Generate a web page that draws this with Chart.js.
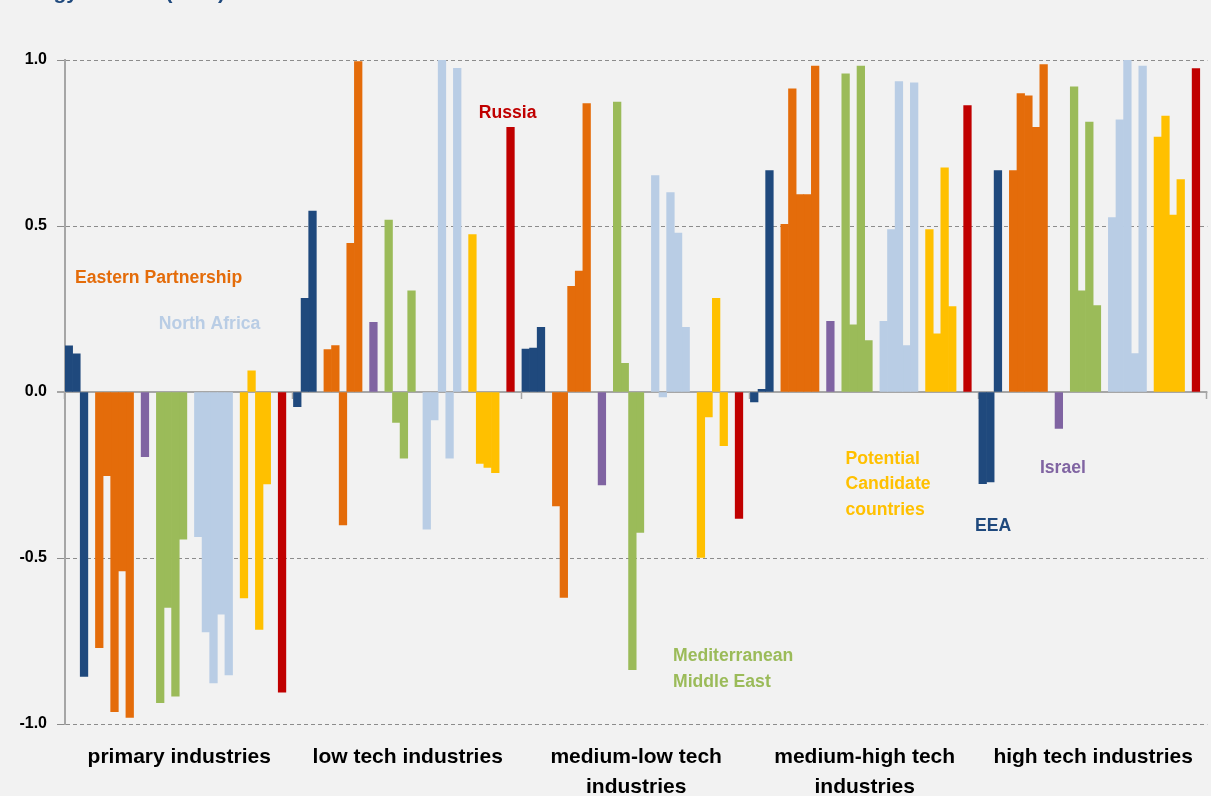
<!DOCTYPE html>
<html>
<head>
<meta charset="utf-8">
<script src="https://cdn.jsdelivr.net/npm/chart.js@4.4.0/dist/chart.umd.min.js"></script>
<style>
  html, body { margin: 0; padding: 0; background: #f2f2f2; }
  #wrap { width: 1211px; height: 796px; }
</style>
</head>
<body>
<div id="wrap"><canvas id="myChart" width="1211" height="796"></canvas></div>
<script>
const categories = [
    'primary industries',
    'low tech industries',
    ['medium-low tech', 'industries'],
    ['medium-high tech', 'industries'],
    'high tech industries'
]

// one slot per country, null = empty spacer between the country groups
const regions = [
    'EEA', 'EEA', 'EEA', null,
    'EaP', 'EaP', 'EaP', 'EaP', 'EaP', null,
    'Israel', null,
    'MME', 'MME', 'MME', 'MME', null,
    'NA', 'NA', 'NA', 'NA', 'NA', null,
    'PC', 'PC', 'PC', 'PC', null,
    'Russia', null
]

const primary    = [0.139, 0.115, -0.857, null, -0.770, -0.252, -0.963, -0.539, -0.980, null, -0.195, null, -0.936, -0.649, -0.916, -0.443, null, -0.436, -0.723, -0.876, -0.669, -0.852, null, -0.620, 0.064, -0.715, -0.277, null, -0.904, null]
const lowTech    = [-0.044, 0.282, 0.545, null, 0.128, 0.140, -0.400, 0.448, 0.995, null, 0.210, null, 0.518, -0.092, -0.199, 0.305, null, -0.413, -0.084, 1.000, -0.199, 0.975, null, 0.474, -0.215, -0.227, -0.243, null, 0.797, null]
const mediumLow  = [0.129, 0.132, 0.195, null, -0.343, -0.619, 0.318, 0.364, 0.869, null, -0.280, null, 0.873, 0.086, -0.836, -0.423, null, 0.652, -0.015, 0.601, 0.479, 0.195, null, -0.498, -0.075, 0.282, -0.162, null, -0.381, null]
const mediumHigh = [-0.030, 0.008, 0.667, null, 0.505, 0.913, 0.595, 0.595, 0.982, null, 0.213, null, 0.958, 0.202, 0.982, 0.155, null, 0.213, 0.489, 0.935, 0.140, 0.931, null, 0.489, 0.175, 0.675, 0.257, null, 0.863, null]
const highTech   = [-0.276, -0.271, 0.667, null, 0.667, 0.899, 0.892, 0.797, 0.986, null, -0.110, null, 0.919, 0.305, 0.813, 0.260, null, 0.525, 0.820, 1.000, 0.116, 0.982, null, 0.768, 0.831, 0.533, 0.640, null, 0.974, null]

const yTicks = [-1, -0.5, 0, 0.5, 1]

// region names written in the plot: x in category units, y in axis units
const notes = [
    { text: ['Eastern Partnership'], region: 'EaP', x: -0.456, y: 0.342 },
    { text: ['North Africa'], region: 'NA', x: -0.090, y: 0.204 },
    { text: ['Russia'], region: 'Russia', x: 1.311, y: 0.840 },
    { text: ['Mediterranean', 'Middle East'], region: 'MME', x: 2.161, y: -0.797 },
    { text: ['Potential', 'Candidate', 'countries'], region: 'PC', x: 2.916, y: -0.201 },
    { text: ['EEA'], region: 'EEA', x: 3.483, y: -0.405 },
    { text: ['Israel'], region: 'Israel', x: 3.767, y: -0.228 }
]

const colors = {
    EEA: '#1f497d',
    EaP: '#e46c0a',
    Israel: '#8064a2',
    MME: '#9bbb59',
    NA: '#b9cde5',
    PC: '#ffc000',
    Russia: '#c00000'
}

const rows = [primary, lowTech, mediumLow, mediumHigh, highTech]

const datasets = regions.map((r, i) => ({
    label: r ? r + ' ' + i : '',
    data: rows.map(row => row[i]),
    backgroundColor: r ? colors[r] : 'transparent',
    borderWidth: 0,
    categoryPercentage: 1,
    barPercentage: 1
}))

const extras = {
    id: 'extras',
    beforeDatasetsDraw(chart) {
        const ctx = chart.ctx
        const x = chart.scales.x
        const y = chart.scales.y
        const y0 = y.getPixelForValue(0)
        ctx.save()
        ctx.strokeStyle = '#a6a6a6'
        ctx.lineWidth = 2
        ctx.beginPath()
        ctx.moveTo(x.left - 8, y0)
        ctx.lineTo(x.right, y0)
        ctx.stroke()
        ctx.lineWidth = 1.5
        for (let i = 0; i <= categories.length; i++) {
            const px = Math.round(x.getPixelForValue(i - 0.5)) - 0.5
            ctx.beginPath()
            ctx.moveTo(px, y0)
            ctx.lineTo(px, y0 + 7)
            ctx.stroke()
        }
        ctx.restore()
    },
    afterDraw(chart) {
        const ctx = chart.ctx
        const x = chart.scales.x
        const y = chart.scales.y
        ctx.save()
        ctx.font = 'bold 17.6px "Liberation Sans", Arial, sans-serif'
        ctx.textBaseline = 'middle'
        ctx.textAlign = 'left'
        notes.forEach(n => {
            ctx.fillStyle = colors[n.region]
            const px = x.getPixelForValue(n.x)
            const py = y.getPixelForValue(n.y)
            n.text.forEach((line, k) => ctx.fillText(line, px, py + k * 25.5))
        })
        // chart title, cut off by the top edge in the original
        ctx.font = 'bold 21px "Liberation Sans", Arial, sans-serif'
        ctx.fillStyle = '#1f497d'
        ctx.textBaseline = 'alphabetic'
        const w = ctx.measureText('Specialisation by technology').width
        ctx.fillText('Specialisation by technology classes (RCA)', 78 - w, -1)
        ctx.restore()
    }
}

new Chart(document.getElementById('myChart'), {
    type: 'bar',
    data: { labels: categories, datasets: datasets },
    options: {
        responsive: false,
        animation: false,
        layout: { padding: { top: 60, right: 1, left: 0, bottom: 0 } },
        plugins: { legend: { display: false }, tooltip: { enabled: false } },
        scales: {
            x: {
                grid: { display: false, drawTicks: false },
                border: { display: false },
                ticks: {
                    color: '#000',
                    font: { family: '"Liberation Sans", Arial, sans-serif', size: 21, weight: 'bold', lineHeight: 1.42 },
                    padding: 18,
                    maxRotation: 0,
                    autoSkip: false
                },
                afterFit(scale) { scale.height = 72 }
            },
            y: {
                min: -1,
                max: 1,
                afterBuildTicks(scale) { scale.ticks = yTicks.map(v => ({ value: v })) },
                ticks: {
                    color: '#000',
                    font: { family: '"Liberation Sans", Arial, sans-serif', size: 16, weight: 'bold' },
                    padding: 10,
                    callback: v => v.toFixed(1)
                },
                grid: {
                    color: c => (c.tick && c.tick.value === 0) ? 'transparent' : '#8c8c8c',
                    tickColor: '#8c8c8c',
                    tickLength: 8,
                    lineWidth: 1
                },
                border: { display: true, color: '#a6a6a6', width: 2, dash: [4, 3] },
                afterFit(scale) { scale.width = 65 }
            }
        }
    },
    plugins: [extras]
})
</script>
</body>
</html>
